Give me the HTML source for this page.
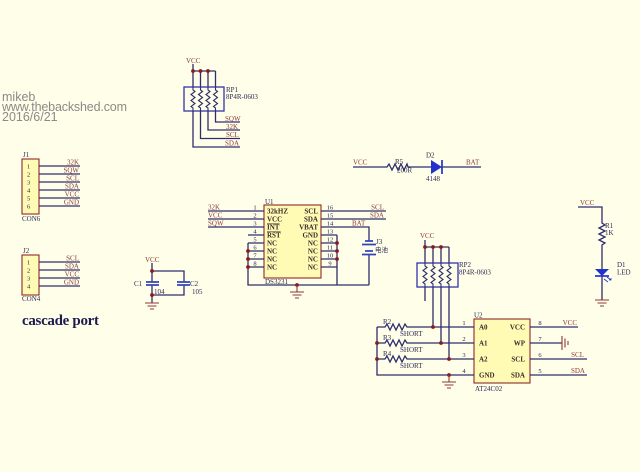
<!DOCTYPE html>
<html><head><meta charset="utf-8"><style>
html,body{margin:0;padding:0;background:#fffee8;}
svg{display:block;}
.w{stroke:#2e2e6e;stroke-width:1.3;fill:none;}
.r{stroke:#2e2e6e;stroke-width:1.1;fill:none;}
.b{fill:#fffab4;stroke:#8b2a2a;stroke-width:1.1;}
.n{font-family:"Liberation Serif",serif;font-size:7px;fill:#8b3a3a;}
.d{font-family:"Liberation Serif",serif;font-size:7px;fill:#2a2a55;}
.p{font-family:"Liberation Serif",serif;font-size:6.5px;fill:#2a2a55;}
.i{font-family:"Liberation Serif",serif;font-size:7px;fill:#3a2a2a;font-weight:bold;}
.dot{fill:#8b1a1a;}
.g{stroke:#8b3a3a;stroke-width:1.1;fill:none;}
</style></head><body>
<svg width="640" height="472" viewBox="0 0 640 472" xmlns="http://www.w3.org/2000/svg">
<rect width="640" height="472" fill="#fffee8"/>

<!-- watermark -->
<g font-family="Liberation Sans, sans-serif" font-size="12.5" fill="#8a8a8a">
<text x="2" y="101">mikeb</text>
<text x="2" y="111" textLength="125">www.thebackshed.com</text>
<text x="2" y="121">2016/6/21</text>
</g>

<!-- RP1 -->
<text class="n" x="186" y="63">VCC</text>
<path class="w" d="M193 64V71H215.5"/>
<path class="w" d="M193 71V88M200.5 71V88M208 71V88M215.5 71V88"/>
<rect x="184" y="87" width="40" height="24" fill="none" stroke="#3333aa" stroke-width="1.3"/>
<path class="r" d="M193 88V90l2 1.5l-4 3l4 3l-4 3l4 3l-4 3l2 1.5V111"/>
<path class="r" d="M200.5 88V90l2 1.5l-4 3l4 3l-4 3l4 3l-4 3l2 1.5V111"/>
<path class="r" d="M208 88V90l2 1.5l-4 3l4 3l-4 3l4 3l-4 3l2 1.5V111"/>
<path class="r" d="M215.5 88V90l2 1.5l-4 3l4 3l-4 3l4 3l-4 3l2 1.5V111"/>
<circle class="dot" cx="193" cy="71" r="1.9"/><circle class="dot" cx="200.5" cy="71" r="1.9"/><circle class="dot" cx="208" cy="71" r="1.9"/>
<path class="w" d="M215.5 111V122H240M208 111V130H240M200.5 111V138.5H240M193 111V147H240"/>
<text class="d" x="226" y="92">RP1</text>
<text class="d" x="226" y="99" font-size="6.5">8P4R-0603</text>
<text class="n" x="225" y="121">SQW</text>
<text class="n" x="226" y="129">32K</text>
<text class="n" x="226" y="137">SCL</text>
<text class="n" x="225" y="145.5">SDA</text>

<!-- J1 -->
<text class="d" x="23" y="157">J1</text>
<rect class="b" x="22" y="159" width="17" height="55"/>
<path class="w" d="M39 166H80M39 174H80M39 182H80M39 190H80M39 198H80M39 206H80"/>
<g class="p"><text x="27" y="168.5">1</text><text x="27" y="176.5">2</text><text x="27" y="184.5">3</text><text x="27" y="192.5">4</text><text x="27" y="200.5">5</text><text x="27" y="208.5">6</text></g>
<g class="n" text-anchor="end"><text x="79" y="164.5">32K</text><text x="79" y="172.5">SQW</text><text x="79" y="180.5">SCL</text><text x="79" y="188.5">SDA</text><text x="79" y="196.5">VCC</text><text x="79" y="204.5">GND</text></g>
<text class="d" x="22" y="221">CON6</text>

<!-- J2 -->
<text class="d" x="23" y="253">J2</text>
<rect class="b" x="22" y="255" width="17" height="40"/>
<path class="w" d="M39 262H80M39 270H80M39 278H80M39 286H80"/>
<g class="p"><text x="27" y="264.5">1</text><text x="27" y="272.5">2</text><text x="27" y="280.5">3</text><text x="27" y="288.5">4</text></g>
<g class="n" text-anchor="end"><text x="79" y="260.5">SCL</text><text x="79" y="268.5">SDA</text><text x="79" y="276.5">VCC</text><text x="79" y="284.5">GND</text></g>
<text class="d" x="22" y="301">CON4</text>
<text x="22" y="325" font-family="Liberation Serif, serif" font-weight="bold" font-size="15" fill="#1c1c50" textLength="77">cascade port</text>

<!-- C1 C2 -->
<text class="n" x="145" y="262">VCC</text>
<path class="w" d="M152 263V282M152 285V303M152 271H184V282M184 285V295H152"/>
<path stroke="#3344bb" stroke-width="1.7" d="M146 282H159M146 285H159M177 282H190M177 285H190"/>
<circle class="dot" cx="152" cy="271" r="1.9"/><circle class="dot" cx="152" cy="295" r="1.9"/>
<path class="g" d="M145 303H159M147.5 306H156.5M150 309H154"/>
<text class="d" x="134" y="286">C1</text><text class="d" x="154" y="294">104</text>
<text class="d" x="190" y="286">C2</text><text class="d" x="192" y="294">105</text>

<!-- U1 -->
<text class="d" x="265" y="204">U1</text>
<rect class="b" x="264" y="205" width="57" height="73"/>
<path class="w" d="M208 211H264M208 219H264M208 227H264M248 235H264M248 243H264M248 251H264M248 259H264M248 267H264"/>
<path class="w" d="M321 211H386M321 219H386M321 227H369V241M369 254V285M321 235H337M321 243H337M321 251H337M321 259H337M321 267H337"/>
<path class="w" d="M248 243V285H369M337 235V285"/>
<circle class="dot" cx="248" cy="251" r="1.9"/><circle class="dot" cx="248" cy="259" r="1.9"/><circle class="dot" cx="248" cy="267" r="1.9"/>
<circle class="dot" cx="337" cy="243" r="1.9"/><circle class="dot" cx="337" cy="251" r="1.9"/><circle class="dot" cx="337" cy="259" r="1.9"/>
<circle class="dot" cx="297" cy="285" r="1.9"/>
<path class="g" d="M297 285V292M290 292H304M292.5 295H301.5M295 298H299"/>
<g class="n"><text x="208" y="209.5">32K</text><text x="208" y="217.5">VCC</text><text x="208" y="225.5">SQW</text></g>
<g class="n" text-anchor="end"><text x="384" y="209.5">SCL</text><text x="384" y="217.5">SDA</text></g>
<text class="n" x="352" y="225.5">BAT</text>
<g class="p" text-anchor="middle"><text x="255" y="209.5">1</text><text x="255" y="217.5">2</text><text x="255" y="225.5">3</text><text x="255" y="233.5">4</text><text x="255" y="241.5">5</text><text x="255" y="249.5">6</text><text x="255" y="257.5">7</text><text x="255" y="265.5">8</text>
<text x="330" y="209.5">16</text><text x="330" y="217.5">15</text><text x="330" y="225.5">14</text><text x="330" y="233.5">13</text><text x="330" y="241.5">12</text><text x="330" y="249.5">11</text><text x="330" y="257.5">10</text><text x="330" y="265.5">9</text></g>
<g class="i" font-size="6.5"><text x="267" y="213.5">32kHZ</text><text x="267" y="221.5">VCC</text><text x="267" y="229.5" text-decoration="overline">INT</text><text x="267" y="237.5" text-decoration="overline">RST</text><text x="267" y="245.5">NC</text><text x="267" y="253.5">NC</text><text x="267" y="261.5">NC</text><text x="267" y="269.5">NC</text></g>
<g class="i" font-size="6.5" text-anchor="end"><text x="318" y="213.5">SCL</text><text x="318" y="221.5">SDA</text><text x="318" y="229.5">VBAT</text><text x="318" y="237.5">GND</text><text x="318" y="245.5">NC</text><text x="318" y="253.5">NC</text><text x="318" y="261.5">NC</text><text x="318" y="269.5">NC</text></g>
<text class="d" x="265" y="284" font-size="6.5">DS3231</text>
<path stroke="#3344bb" stroke-width="1.7" d="M365 241H373M362 244.5H376M365 251H373M362 254.5H376"/>
<text class="d" x="376" y="244">J3</text>
<text x="375" y="252" font-family="Liberation Serif, 'Noto Sans CJK SC', sans-serif" font-size="6.5" fill="#2a2a55">电池</text>

<!-- R5 D2 -->
<text class="n" x="353" y="164.5">VCC</text>
<path class="w" d="M353 167H387l2 -3l3 6l3 -6l3 6l3 -6l3 6l3 -6l1 3H431M442 167H481"/>
<path d="M431 160L431 174L442 167Z" fill="#2233cc"/>
<path stroke="#2233cc" stroke-width="1.7" d="M442 160V174"/>
<text class="d" x="395" y="164">R5</text><text class="d" x="397" y="172.5" font-size="6.5">200R</text>
<text class="d" x="426" y="157.5">D2</text><text class="d" x="426" y="181">4148</text>
<text class="n" x="466" y="164.5">BAT</text>

<!-- RP2 -->
<text class="n" x="420" y="238">VCC</text>
<path class="w" d="M425 240V247H449M425 247V263M433 247V263M441 247V263M449 247V263"/>
<rect x="417" y="263" width="41" height="24" fill="none" stroke="#3333aa" stroke-width="1.3"/>
<path class="r" d="M425 263V266l2 1.5l-4 3l4 3l-4 3l4 3l-4 3l2 1.5V287"/>
<path class="r" d="M433 263V266l2 1.5l-4 3l4 3l-4 3l4 3l-4 3l2 1.5V287"/>
<path class="r" d="M441 263V266l2 1.5l-4 3l4 3l-4 3l4 3l-4 3l2 1.5V287"/>
<path class="r" d="M449 263V266l2 1.5l-4 3l4 3l-4 3l4 3l-4 3l2 1.5V287"/>
<path class="w" d="M425 287V301M433 287V327M441 287V343M449 287V359"/>
<circle class="dot" cx="425" cy="247" r="1.9"/><circle class="dot" cx="433" cy="247" r="1.9"/><circle class="dot" cx="441" cy="247" r="1.9"/>
<text class="d" x="459" y="267">RP2</text><text class="d" x="459" y="274.5" font-size="6.5">8P4R-0603</text>

<!-- U2 -->
<text class="d" x="474" y="317.5">U2</text>
<rect class="b" x="474" y="319" width="56" height="64"/>
<path class="w" d="M377 327H385l2 -3l3 6l3 -6l3 6l3 -6l3 6l3 -6l2 3H474"/>
<path class="w" d="M377 343H385l2 -3l3 6l3 -6l3 6l3 -6l3 6l3 -6l2 3H474"/>
<path class="w" d="M377 359H385l2 -3l3 6l3 -6l3 6l3 -6l3 6l3 -6l2 3H474"/>
<path class="w" d="M377 327V375H474"/>
<circle class="dot" cx="377" cy="343" r="1.9"/><circle class="dot" cx="377" cy="359" r="1.9"/>
<circle class="dot" cx="433" cy="327" r="1.9"/><circle class="dot" cx="441" cy="343" r="1.9"/><circle class="dot" cx="449" cy="359" r="1.9"/><circle class="dot" cx="449" cy="375" r="1.9"/>
<path class="g" d="M449 375V382M442 382H456M444.5 385H453.5M447 388H451"/>
<g class="d"><text x="383" y="324">R2</text><text x="383" y="340">R3</text><text x="383" y="356">R4</text></g>
<g class="d"><text x="400" y="336">SHORT</text><text x="400" y="352">SHORT</text><text x="400" y="368">SHORT</text></g>
<g class="p" text-anchor="middle"><text x="464" y="325">1</text><text x="464" y="341">2</text><text x="464" y="357">3</text><text x="464" y="373">4</text>
<text x="540" y="325">8</text><text x="540" y="341">7</text><text x="540" y="357">6</text><text x="540" y="373">5</text></g>
<g class="i"><text x="479" y="329.5">A0</text><text x="479" y="345.5">A1</text><text x="479" y="361.5">A2</text><text x="479" y="377.5">GND</text></g>
<g class="i" text-anchor="end"><text x="525" y="329.5">VCC</text><text x="525" y="345.5">WP</text><text x="525" y="361.5">SCL</text><text x="525" y="377.5">SDA</text></g>
<path class="w" d="M530 327H578M530 343H562M530 359H587M530 375H587"/>
<path class="g" d="M562 336V350M565 338.5V347.5M568 341V345"/>
<g class="n" text-anchor="end"><text x="577" y="325">VCC</text><text x="584" y="357">SCL</text><text x="585" y="373">SDA</text></g>
<text class="d" x="475" y="391" font-size="6.5">AT24C02</text>

<!-- LED -->
<text class="n" x="580" y="205">VCC</text>
<path class="w" d="M578 207H602V223l3 2l-6 3l6 3l-6 3l6 3l-6 3l6 3l-3 2V269M602 276V300"/>
<path d="M595 269H609L602 276Z" fill="#2233cc"/>
<path stroke="#2233cc" stroke-width="1.7" d="M595 276H609"/>
<path stroke="#2233cc" stroke-width="0.8" fill="none" d="M607 277l4 3M609 280l2 0l0 -2M604 279l4 3"/>
<path class="g" d="M595 300H609M597.5 303H606.5M600 306H604"/>
<text class="d" x="605" y="228">R1</text><text class="d" x="605" y="235">1K</text>
<text class="d" x="617" y="267">D1</text><text class="d" x="617" y="274.5">LED</text>
</svg>
</body></html>
